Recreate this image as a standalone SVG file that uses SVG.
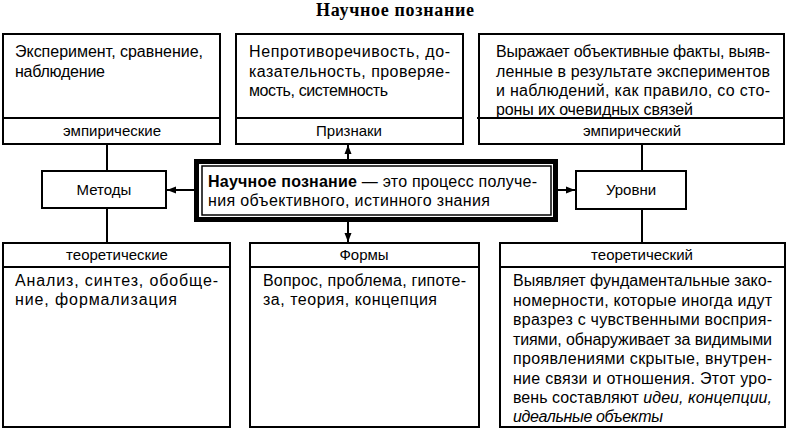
<svg xmlns="http://www.w3.org/2000/svg" width="789" height="431" viewBox="0 0 789 431">
  <style>
    .box { fill: #fff; stroke: #000; stroke-width: 2; }
    .div { stroke: #000; stroke-width: 2; }
    .t { font-family: "Liberation Sans", Arial, sans-serif; font-size: 15px; fill: #000; }
    .b { font-size: 16px; }
    .c { text-anchor: middle; }
    .title { font-family: "Liberation Serif", "Times New Roman", serif; font-size: 18px; font-weight: bold; }
    .conn { stroke: #000; stroke-width: 2; fill: none; }
    .it { font-style: italic; }
  </style>
  <defs>
    <marker id="arr" markerUnits="userSpaceOnUse" markerWidth="10" markerHeight="8" refX="9" refY="4" orient="auto">
      <path d="M0,0.5 L9,4 L0,7.5 Z" fill="#000"/>
    </marker>
  </defs>
  <rect width="789" height="431" fill="#fff"/>

  <text class="title" x="316" y="16" textLength="158" lengthAdjust="spacing">Научное познание</text>

  <g id="connectors">
    <line class="conn" x1="107" y1="144" x2="107" y2="171"/>
    <line class="conn" x1="107" y1="208" x2="107" y2="243"/>
    <line class="conn" x1="642" y1="144" x2="642" y2="171"/>
    <line class="conn" x1="642" y1="209" x2="642" y2="243"/>
    <line class="conn" x1="194" y1="190" x2="167" y2="190" marker-end="url(#arr)"/>
    <line class="conn" x1="558" y1="190" x2="575" y2="190" marker-end="url(#arr)"/>
    <line class="conn" x1="348" y1="159" x2="348" y2="145" marker-end="url(#arr)"/>
    <line class="conn" x1="348" y1="222" x2="348" y2="242" marker-end="url(#arr)"/>
  </g>

  <g id="empirical-methods">
    <rect class="box" x="3" y="34" width="217" height="110"/>
    <line class="div" x1="3" y1="118" x2="220" y2="118"/>
    <text class="t b" x="15" y="57" textLength="188" lengthAdjust="spacing">Эксперимент, сравнение,</text>
    <text class="t b" x="15" y="76.5" textLength="90" lengthAdjust="spacing">наблюдение</text>
    <text class="t c" x="112" y="136">эмпирические</text>
  </g>

  <g id="features">
    <rect class="box" x="236" y="34" width="227" height="110"/>
    <line class="div" x1="236" y1="118" x2="463" y2="118"/>
    <text class="t b" x="249" y="57" textLength="201" lengthAdjust="spacing">Непротиворечивость, до-</text>
    <text class="t b" x="249" y="76.5" textLength="201" lengthAdjust="spacing">казательность, проверяе-</text>
    <text class="t b" x="249" y="96" textLength="139" lengthAdjust="spacing">мость, системность</text>
    <text class="t c" x="349" y="136">Признаки</text>
  </g>

  <g id="empirical-level">
    <rect class="box" x="479" y="34" width="305" height="110"/>
    <line class="div" x1="477" y1="118" x2="784" y2="118"/>
    <text class="t b" x="496" y="57" textLength="274" lengthAdjust="spacing">Выражает объективные факты, выяв-</text>
    <text class="t b" x="496" y="76.5" textLength="274" lengthAdjust="spacing">ленные в результате экспериментов</text>
    <text class="t b" x="496" y="96" textLength="274" lengthAdjust="spacing">и наблюдений, как правило, со сто-</text>
    <text class="t b" x="496" y="115" textLength="197" lengthAdjust="spacing">роны их очевидных связей</text>
    <text class="t c" x="632" y="136">эмпирический</text>
  </g>

  <g id="methods">
    <rect class="box" x="42" y="171" width="124" height="37"/>
    <text class="t c" x="104" y="195">Методы</text>
  </g>

  <g id="center">
    <rect x="196.5" y="161.5" width="359" height="58" fill="#fff" stroke="#000" stroke-width="5"/>
    <rect x="202" y="166" width="349" height="49" fill="none" stroke="#000" stroke-width="1.5"/>
    <text class="t b" x="208" y="187" textLength="329" lengthAdjust="spacing"><tspan font-weight="bold">Научное познание</tspan> — это процесс получе-</text>
    <text class="t b" x="208" y="206" textLength="282" lengthAdjust="spacing">ния объективного, истинного знания</text>
  </g>

  <g id="levels">
    <rect class="box" x="576" y="171" width="110" height="38"/>
    <text class="t c" x="631" y="195">Уровни</text>
  </g>

  <g id="theoretical-methods">
    <rect class="box" x="3" y="243" width="227" height="184"/>
    <line class="div" x1="3" y1="267" x2="230" y2="267"/>
    <text class="t c" x="117" y="260">теоретические</text>
    <text class="t b" x="15" y="286" textLength="203" lengthAdjust="spacing">Анализ, синтез, обобще-</text>
    <text class="t b" x="15" y="305" textLength="162" lengthAdjust="spacing">ние, формализация</text>
  </g>

  <g id="forms">
    <rect class="box" x="250" y="243" width="229" height="184"/>
    <line class="div" x1="250" y1="267" x2="479" y2="267"/>
    <text class="t c" x="364" y="260">Формы</text>
    <text class="t b" x="263" y="286" textLength="203" lengthAdjust="spacing">Вопрос, проблема, гипоте-</text>
    <text class="t b" x="263" y="305" textLength="174" lengthAdjust="spacing">за, теория, концепция</text>
  </g>

  <g id="theoretical-level">
    <rect class="box" x="500" y="243" width="285" height="184"/>
    <line class="div" x1="500" y1="267" x2="785" y2="267"/>
    <text class="t c" x="642" y="260">теоретический</text>
    <text class="t b" x="513" y="286" textLength="259" lengthAdjust="spacing">Выявляет фундаментальные зако-</text>
    <text class="t b" x="513" y="305.5" textLength="259" lengthAdjust="spacing">номерности, которые иногда идут</text>
    <text class="t b" x="513" y="325" textLength="259" lengthAdjust="spacing">вразрез с чувственными восприя-</text>
    <text class="t b" x="513" y="344.5" textLength="259" lengthAdjust="spacing">тиями, обнаруживает за видимыми</text>
    <text class="t b" x="513" y="364" textLength="259" lengthAdjust="spacing">проявлениями скрытые, внутрен-</text>
    <text class="t b" x="513" y="383.5" textLength="259" lengthAdjust="spacing">ние связи и отношения. Этот уро-</text>
    <text class="t b" x="513" y="403" textLength="259" lengthAdjust="spacing">вень составляют <tspan class="it">идеи, концепции,</tspan></text>
    <text class="t b it" x="513" y="422" textLength="150" lengthAdjust="spacing">идеальные объекты</text>
  </g>
</svg>
